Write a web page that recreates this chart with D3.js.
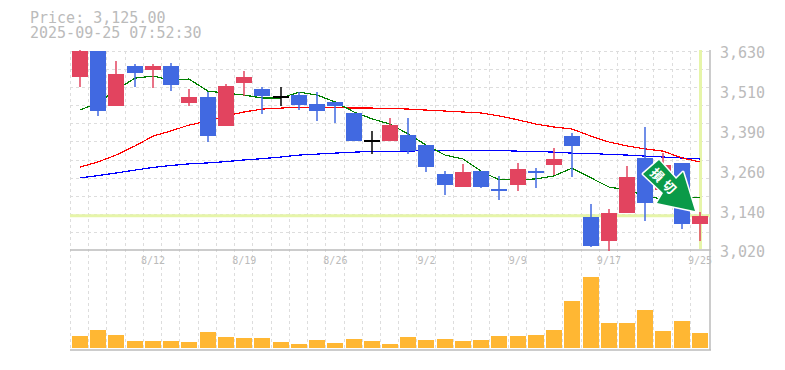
<!DOCTYPE html>
<html lang="en">

<head>
    <meta charset="UTF-8">
    <title>Price chart</title>
    <script src="https://d3js.org/d3.v7.min.js"></script>
    <style>
        html, body { margin: 0; background: #fff; overflow: hidden; }
        svg { display: block; }
        text { font-family: "DejaVu Sans Mono", monospace; fill: #bbb; }
        .grid { stroke: #ddd; stroke-width: 1; stroke-dasharray: 3 3; shape-rendering: crispEdges; }
        .frame { stroke: #bbb; stroke-width: 1.5; }
        .ma { fill: none; stroke-width: 1.2; shape-rendering: crispEdges; }
    </style>
</head>

<body>
    <div id="chart"></div>

    <script>
        const dates = ["8/5", "8/6", "8/7", "8/8", "8/12", "8/13", "8/14", "8/15", "8/18", "8/19",
            "8/20", "8/21", "8/22", "8/25", "8/26", "8/27", "8/28", "8/29", "9/1", "9/2",
            "9/3", "9/4", "9/5", "9/8", "9/9", "9/10", "9/11", "9/12", "9/16", "9/17",
            "9/18", "9/19", "9/22", "9/24", "9/25"];
        const dateTicks = ["8/12", "8/19", "8/26", "9/2", "9/9", "9/17", "9/25"];
        const priceTicks = ["3,630", "3,510", "3,390", "3,260", "3,140", "3,020"];

        const opens = [3550, 3630, 3461, 3584, 3572, 3584, 3471, 3489, 3400, 3532,
            3514, 3492, 3495, 3468, 3474, 3440, 3357, 3354, 3373, 3342,
            3253, 3213, 3262, 3207, 3219, 3262, 3281, 3369, 3121, 3048,
            3133, 3302, 3204, 3287, 3100];
        const highs = [3633, 3630, 3599, 3590, 3590, 3593, 3514, 3504, 3529, 3569,
            3520, 3520, 3504, 3504, 3474, 3440, 3385, 3425, 3425, 3342,
            3262, 3284, 3262, 3247, 3287, 3271, 3333, 3379, 3161, 3146,
            3277, 3397, 3317, 3287, 3136];
        const lows = [3520, 3431, 3461, 3520, 3517, 3507, 3461, 3351, 3400, 3492,
            3437, 3461, 3449, 3415, 3409, 3354, 3314, 3354, 3314, 3259,
            3189, 3213, 3210, 3173, 3201, 3210, 3250, 3244, 3029, 3017,
            3133, 3109, 3190, 3084, 3048];
        const closes = [3630, 3446, 3560, 3563, 3584, 3526, 3489, 3369, 3523, 3550,
            3492, 3492, 3464, 3446, 3461, 3354, 3357, 3403, 3323, 3274,
            3219, 3259, 3213, 3201, 3268, 3256, 3299, 3339, 3032, 3133,
            3244, 3164, 3281, 3100, 3125];

        const maShort = [3449, 3471, 3510, 3547, 3553, 3541, 3544, 3507, 3501, 3495,
            3486, 3486, 3504, 3495, 3474, 3443, 3422, 3406, 3376, 3342,
            3311, 3299, 3262, 3235, 3235, 3238, 3247, 3271, 3241, 3213,
            3204, 3186, 3176, 3179, 3182];
        const maMid = [3274, 3290, 3311, 3339, 3369, 3385, 3403, 3415, 3431, 3443,
            3452, 3455, 3458, 3458, 3457, 3455, 3455, 3454, 3452, 3449,
            3446, 3443, 3440, 3431, 3419, 3406, 3397, 3391, 3369, 3351,
            3339, 3330, 3323, 3302, 3290];
        const maLong = [3241, 3248, 3256, 3265, 3273, 3279, 3284, 3287, 3291, 3296,
            3300, 3305, 3311, 3314, 3317, 3320, 3322, 3323, 3323, 3325,
            3325, 3325, 3325, 3325, 3323, 3322, 3320, 3317, 3316, 3313,
            3311, 3308, 3305, 3302, 3299];

        const volume = [12, 18, 13, 7, 7, 7, 6, 16, 11, 10,
            10, 6, 4, 8, 5, 9, 7, 4, 11, 8,
            9, 7, 8, 12, 12, 13, 18, 47, 71, 25,
            25, 38, 17, 27, 15];

        const lastPrice = 3125;
        const lastPriceText = "Price: 3,125.00";
        const stamp = "2025-09-25 07:52:30";

        const width = 785;
        const height = 370;
        const plotLeft = 70;
        const plotRight = 710;
        const plotTop = 51;
        const priceBottom = 250;
        const volumeBottom = 348;

        const svg = d3.select("#chart")
            .append("svg")
            .attr("width", width)
            .attr("height", height);

        const x = d3.scaleBand().domain(dates).range([plotLeft, 708.2]);
        const y = d3.scaleLinear().domain([3020, 3630]).range([priceBottom, plotTop]);
        const yVol = d3.scaleLinear().domain([0, 71]).range([volumeBottom, 277]);
        const yLabels = d3.scalePoint().domain(priceTicks).range([plotTop, priceBottom]);

        // bars sit 2px inside each 18px slot
        const barLeft = d => Math.round(x(d) + 2);
        const cx = d => barLeft(d) + 8;
        const py = v => Math.round(y(v));

        // grid
        const rows = d3.range(0, 11).map(k => plotTop + k * (priceBottom - plotTop) / 11);
        svg.append("g").selectAll("line")
            .data(rows)
            .join("line")
            .attr("class", "grid")
            .attr("x1", plotLeft).attr("x2", plotRight)
            .attr("y1", d => Math.round(d)).attr("y2", d => Math.round(d));

        svg.append("g").selectAll("line")
            .data(dates)
            .join("line")
            .attr("class", "grid")
            .attr("x1", d => Math.round(x(d))).attr("x2", d => Math.round(x(d)))
            .attr("y1", plotTop).attr("y2", volumeBottom + 2);

        // frame
        svg.append("line").attr("class", "frame")
            .attr("x1", plotLeft).attr("x2", plotRight + 1).attr("y1", priceBottom).attr("y2", priceBottom);
        svg.append("line").attr("class", "frame")
            .attr("x1", plotLeft).attr("x2", plotRight + 1).attr("y1", volumeBottom + 2).attr("y2", volumeBottom + 2);
        svg.append("line").attr("class", "frame")
            .attr("x1", plotRight).attr("x2", plotRight).attr("y1", plotTop - 1).attr("y2", volumeBottom + 2);

        // current price and date markers
        svg.append("line")
            .attr("x1", plotLeft).attr("x2", plotRight)
            .attr("y1", y(lastPrice)).attr("y2", y(lastPrice))
            .attr("stroke", "#e6f5a9").attr("stroke-width", 3);
        svg.append("line")
            .attr("x1", cx("9/25") + 0.5).attr("x2", cx("9/25") + 0.5)
            .attr("y1", plotTop - 1).attr("y2", priceBottom - 1)
            .attr("stroke", "#e6f5a9").attr("stroke-width", 3);

        // moving averages
        const maLine = d3.line().x((v, i) => cx(dates[i])).y(v => y(v));
        [[maLong, "#0000ff"], [maMid, "#ff0000"], [maShort, "#008000"]].forEach(([values, color]) => {
            svg.append("path")
                .datum(values)
                .attr("class", "ma")
                .attr("stroke", color)
                .attr("d", maLine);
        });

        // candles
        const candleColor = i => closes[i] > opens[i] ? "#e2445f" : closes[i] < opens[i] ? "#4169e1" : "#000";
        const candles = svg.append("g").selectAll("g")
            .data(dates)
            .join("g");

        candles.append("line")
            .attr("x1", d => cx(d)).attr("x2", d => cx(d))
            .attr("y1", (d, i) => py(highs[i])).attr("y2", (d, i) => py(lows[i]))
            .attr("stroke", (d, i) => candleColor(i))
            .attr("stroke-width", 1.5);

        candles.append("rect")
            .attr("x", d => barLeft(d))
            .attr("width", 16)
            .attr("y", (d, i) => py(Math.max(opens[i], closes[i])))
            .attr("height", (d, i) => Math.max(py(Math.min(opens[i], closes[i])) - py(Math.max(opens[i], closes[i])), 2))
            .attr("fill", (d, i) => candleColor(i));

        // volume
        svg.append("g").selectAll("rect")
            .data(dates)
            .join("rect")
            .attr("x", d => barLeft(d))
            .attr("width", 16)
            .attr("y", (d, i) => Math.round(yVol(volume[i])))
            .attr("height", (d, i) => volumeBottom - Math.round(yVol(volume[i])))
            .attr("fill", "#ffb733");

        // axes
        const dateAxis = svg.append("g")
            .attr("transform", `translate(1, ${priceBottom})`)
            .call(d3.axisBottom(x).tickValues(dateTicks).tickSize(0).tickPadding(7));
        dateAxis.select(".domain").remove();
        dateAxis.selectAll("text").style("font-family", "\"DejaVu Sans Mono\", monospace").style("font-size", "10px").attr("fill", "#bbb");

        const priceAxis = svg.append("g")
            .attr("transform", `translate(${plotRight}, 2)`)
            .call(d3.axisRight(yLabels).tickSize(0).tickPadding(10));
        priceAxis.select(".domain").remove();
        priceAxis.selectAll("text").style("font-family", "\"DejaVu Sans Mono\", monospace").style("font-size", "15px").attr("fill", "#bbb");

        // header
        svg.append("text").attr("x", 30).attr("y", 23).style("font-size", "15px").text(lastPriceText);
        svg.append("text").attr("x", 30).attr("y", 38).style("font-size", "15px").text(stamp);

        // stop-loss arrow, placed on the 9/22 candle
        const arrow = svg.append("g")
            .attr("transform", `translate(${cx("9/22")}, ${y(opens[dates.indexOf("9/22")])})`);

        arrow.append("polygon")
            .attr("points", "-4,-30 13,-11 20,-18 32,21 -6,13 0,3 -20,-16")
            .attr("fill", "#0a9a48")
            .attr("stroke", "#fff")
            .attr("stroke-width", 3)
            .attr("stroke-linejoin", "round")
            .attr("paint-order", "stroke");

        arrow.append("text")
            .attr("transform", "translate(1.5, -7.5) rotate(45)")
            .attr("text-anchor", "middle")
            .attr("dy", "0.36em")
            .style("font-family", "\"Noto Sans CJK JP\", sans-serif")
            .style("font-size", "13px")
            .style("font-weight", "700")
            .style("letter-spacing", "4px")
            .style("fill", "#fff")
            .text("損切");
    </script>
</body>

</html>
